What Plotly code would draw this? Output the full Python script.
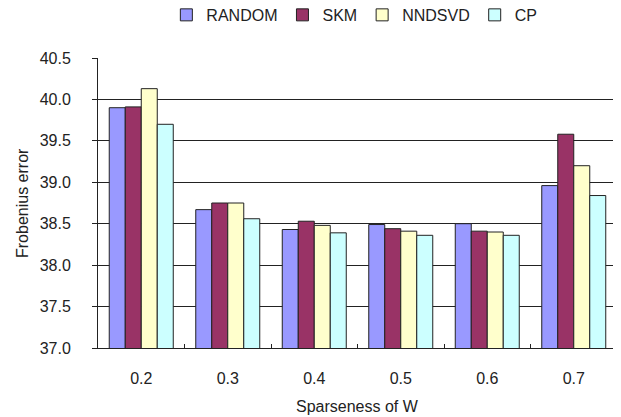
import plotly.graph_objects as go

categories = ["0.2", "0.3", "0.4", "0.5", "0.6", "0.7"]
random_vals = [39.90, 38.67, 38.43, 38.49, 38.50, 38.96]
skm_vals = [39.91, 38.75, 38.53, 38.44, 38.41, 39.58]
nndsvd_vals = [40.13, 38.75, 38.48, 38.41, 38.40, 39.20]
cp_vals = [39.70, 38.56, 38.39, 38.36, 38.36, 38.84]

series = [
    ("RANDOM", random_vals, "#9999FF"),
    ("SKM", skm_vals, "#993366"),
    ("NNDSVD", nndsvd_vals, "#FFFFCC"),
    ("CP", cp_vals, "#CCFFFF"),
]

FONT = "Liberation Sans, Arial, sans-serif"
TXT = "#222222"

fig = go.Figure()
for name, vals, color in series:
    fig.add_trace(go.Bar(
        x=categories, y=vals, name=name,
        marker=dict(color=color, line=dict(color="#222222", width=1)),
    ))

fig.update_layout(
    width=613, height=409,
    margin=dict(l=90, r=4, t=50, b=69, autoexpand=False),
    paper_bgcolor="white", plot_bgcolor="white",
    barmode="group", bargap=0.26, bargroupgap=0,
    font=dict(family=FONT, size=16, color=TXT),
    showlegend=True,
    legend=dict(
        orientation="h", x=0.565, xref="container", xanchor="center",
        y=0.983, yref="container", yanchor="middle",
        font=dict(family=FONT, size=16, color=TXT),
        itemwidth=30, tracegroupgap=0,
    ),
    xaxis=dict(
        type="category", automargin=False,
        showline=True, linecolor="#222222", linewidth=1,
        ticks="inside", ticklen=4, tickcolor="#222222",
        tickson="boundaries", ticklabelstandoff=16,
        showgrid=False,
        tickfont=dict(size=16),
    ),
    yaxis=dict(
        range=[37.0, 40.5], dtick=0.5, tick0=37.0, tickformat=".1f",
        automargin=False,
        showline=True, linecolor="#222222", linewidth=1,
        ticks="outside", ticklen=5, tickcolor="#222222",
        ticklabelstandoff=18,
        showgrid=True, gridcolor="#222222", gridwidth=1,
        zeroline=False,
        tickfont=dict(size=16),
    ),
    annotations=[
        dict(text="Sparseness of W", xref="paper", yref="paper",
             x=0.5, y=0, yshift=-58, xanchor="center", yanchor="middle",
             showarrow=False, font=dict(size=16, color=TXT)),
        dict(text="Frobenius error", xref="paper", yref="paper",
             x=0, y=0.5, xshift=-76, xanchor="center", yanchor="middle",
             textangle=-90, showarrow=False, font=dict(size=16, color=TXT)),
    ],
)

fig.write_html("out.html")
